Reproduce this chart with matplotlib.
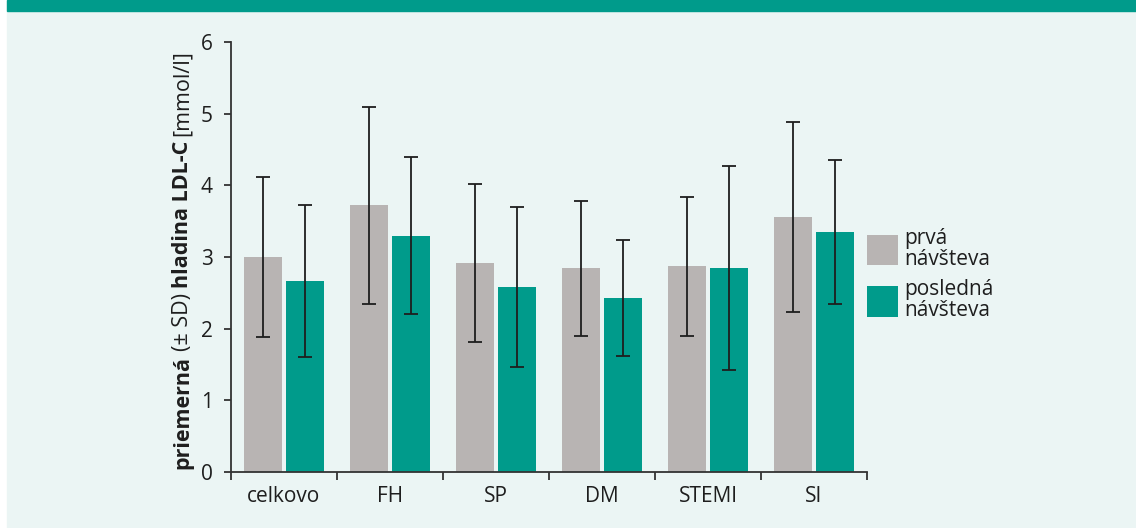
import matplotlib
matplotlib.use('Agg')
import numpy as np
from matplotlib import pyplot as plt
from matplotlib.patches import Rectangle

plt.rcParams['font.family'] = ['Open Sans', 'DejaVu Sans']

# data
categories = ['celkovo', 'FH', 'SP', 'DM', 'STEMI', 'SI']
prva = [3.00, 3.72, 2.92, 2.84, 2.87, 3.56]
prva_sd = [1.12, 1.37, 1.10, 0.94, 0.97, 1.33]
posledna = [2.67, 3.30, 2.58, 2.43, 2.85, 3.35]
posledna_sd = [1.06, 1.10, 1.12, 0.81, 1.42, 1.00]
series_labels = ['prvá\nnávšteva', 'posledná\nnávšteva']
ylabel_parts = [('priemerná', 'bold'), ('(± SD)', 'normal'),
                ('hladina LDL-C', 'bold'), ('[mmol/l]', 'normal')]

teal = '#009b8b'
grey = '#b8b4b3'
bg = '#ebf5f4'
ink = '#1e1e1e'

W, H = 1136, 528
fig = plt.figure(figsize=(W / 100, H / 100), dpi=100)
fig.patch.set_facecolor('white')
# panel background and the teal strip on top
fig.patches.append(Rectangle((7 / W, 0), 1 - 7 / W, 1, transform=fig.transFigure,
                             color=bg, zorder=-10))
fig.patches.append(Rectangle((7 / W, 1 - 11 / H), 1 - 7 / W, 11 / H,
                             transform=fig.transFigure, color=teal, zorder=-9))

ax = fig.add_axes([231 / W, 1 - 472 / H, (867 - 231) / W, (472 - 42) / H])
ax.set_facecolor('none')

x = np.arange(len(categories)) + 0.5
w = 0.36
err_kw = dict(ecolor=ink, elinewidth=1.3, capsize=5, capthick=1.3)
ax.bar(x - 0.2, prva, w, yerr=prva_sd, color=grey, error_kw=err_kw,
       label=series_labels[0])
ax.bar(x + 0.2, posledna, w, yerr=posledna_sd, color=teal, error_kw=err_kw,
       label=series_labels[1])

ax.set_xlim(0, len(categories))
ax.set_ylim(0, 6)
ax.set_yticks(range(0, 7))
ax.set_xticks(range(0, len(categories) + 1))
ax.set_xticklabels([])
ax.set_xticks(x, minor=True)
ax.set_xticklabels(categories, minor=True)
ax.tick_params(axis='x', which='minor', length=0, pad=10, labelsize=15, colors=ink)
ax.tick_params(axis='x', which='major', length=6, width=1.3, color='#333333')
ax.tick_params(axis='y', length=5, width=1.3, pad=8, labelsize=15,
               color='#333333', labelcolor=ink)
for s in ['top', 'right']:
    ax.spines[s].set_visible(False)
for s in ['left', 'bottom']:
    ax.spines[s].set_color('#333333')
    ax.spines[s].set_linewidth(1.3)

leg = ax.legend(loc='center left', bbox_to_anchor=(1.0, 0.459), frameon=False,
                fontsize=15, handlelength=1.49, handleheight=1.85,
                handletextpad=0.3, labelspacing=0.46, borderaxespad=0,
                borderpad=0)
for t in leg.get_texts():
    t.set_linespacing(0.98)
    t.set_color(ink)

# y label with mixed weights, pieces stacked bottom to top
fig.canvas.draw()
r = fig.canvas.get_renderer()
ypos = 469
for txt, wt in ylabel_parts:
    t = fig.text(188 / W, 1 - ypos / H, txt, rotation=90, rotation_mode='anchor',
                 ha='left', va='baseline', fontsize=15.5, fontweight=wt, color=ink)
    bb = t.get_window_extent(r)
    ypos -= bb.height + 5

fig.savefig('out.png', dpi=100, facecolor=fig.get_facecolor())
